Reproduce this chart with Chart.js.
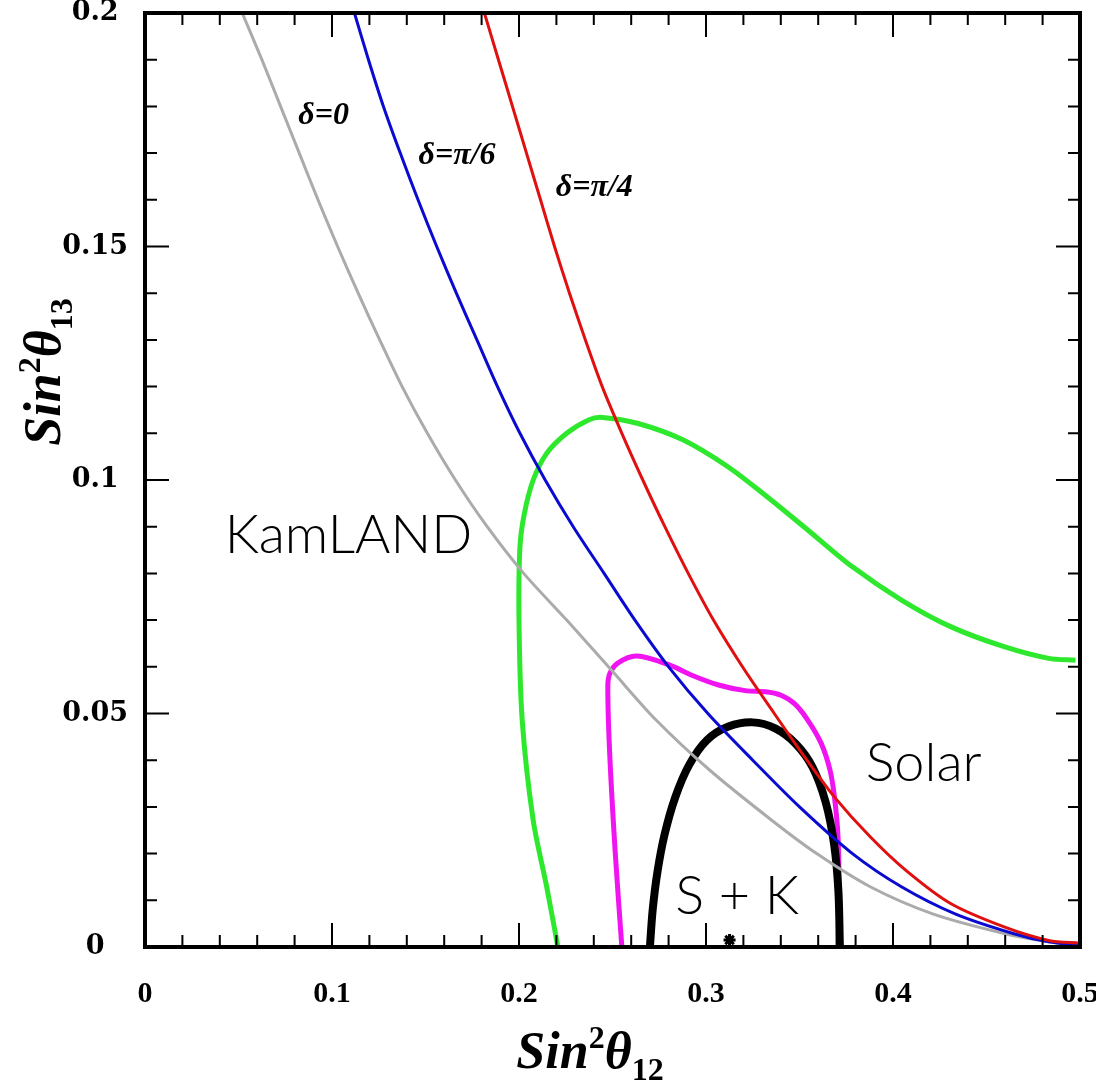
<!DOCTYPE html>
<html>
<head>
<meta charset="utf-8">
<script src="https://cdn.jsdelivr.net/npm/chart.js@4.4.1/dist/chart.umd.min.js"></script>
<style>
html, body { margin: 0; padding: 0; background: #fff; }
#wrap { width: 1096px; height: 1087px; }
</style>
</head>
<body>
<div id="wrap"><canvas id="mixingChart" width="1096" height="1087"></canvas></div>
<script>
// sin^2(theta12) vs sin^2(theta13)

// delta = 0 (gray)
const delta0X = [0.052, 0.0625, 0.0725, 0.0825, 0.0925, 0.1030, 0.114, 0.1255, 0.1375, 0.151, 0.166, 0.183, 0.2025, 0.2255, 0.2494, 0.2733, 0.3019, 0.3353, 0.3592, 0.3878, 0.4212, 0.4594, 0.4833, 0.500];
const delta0Y = [0.200, 0.190, 0.180, 0.170, 0.160, 0.150, 0.140, 0.130, 0.120, 0.110, 0.100, 0.090, 0.080, 0.070, 0.0593, 0.0486, 0.0379, 0.0271, 0.020, 0.0129, 0.0071, 0.0029, 0.0011, 0.0003];

// delta = pi/6 (blue)
const deltaPi6X = [0.112, 0.1195, 0.1275, 0.1365, 0.146, 0.156, 0.1665, 0.1775, 0.1885, 0.2005, 0.214, 0.229, 0.2455, 0.262, 0.280, 0.301, 0.325, 0.350, 0.3783, 0.4045, 0.4332, 0.4642, 0.4833, 0.500];
const deltaPi6Y = [0.200, 0.190, 0.180, 0.170, 0.160, 0.150, 0.140, 0.130, 0.120, 0.110, 0.100, 0.090, 0.080, 0.070, 0.060, 0.050, 0.040, 0.030, 0.020, 0.0129, 0.0071, 0.0029, 0.0011, 0.0003];

// delta = pi/4 (red)
const deltaPi4X = [0.1815, 0.189, 0.1965, 0.204, 0.2115, 0.219, 0.227, 0.2355, 0.2445, 0.255, 0.2662, 0.278, 0.2905, 0.304, 0.3195, 0.3365, 0.354, 0.3687, 0.3878, 0.4069, 0.4308, 0.4594, 0.4833, 0.500];
const deltaPi4Y = [0.200, 0.190, 0.180, 0.170, 0.160, 0.150, 0.140, 0.130, 0.120, 0.110, 0.100, 0.090, 0.080, 0.070, 0.060, 0.050, 0.040, 0.0321, 0.0236, 0.0164, 0.0093, 0.0043, 0.0014, 0.0008];

// KamLAND contour (green)
const kamlandX = [0.2208, 0.2148, 0.2076, 0.2017, 0.2000, 0.2005, 0.2029, 0.2076, 0.2148, 0.2255, 0.2375, 0.2446, 0.2637, 0.2876, 0.3115, 0.3305, 0.3544, 0.3783, 0.4045, 0.4308, 0.4594, 0.4833, 0.4976];
const kamlandY = [0.000, 0.0129, 0.0271, 0.0486, 0.070, 0.0857, 0.0929, 0.100, 0.1057, 0.110, 0.1129, 0.1134, 0.1121, 0.1086, 0.1029, 0.0971, 0.0893, 0.0814, 0.0743, 0.0686, 0.0643, 0.0618, 0.0614];

// Solar contour (magenta)
const solarX = [0.255, 0.2515, 0.2485, 0.2475, 0.2485, 0.2528, 0.2630, 0.2804, 0.2924, 0.3067, 0.321, 0.3329, 0.3401, 0.3473, 0.3544, 0.3616, 0.3663, 0.3687, 0.3706, 0.3711, 0.3706];
const solarY = [0.000, 0.020, 0.0414, 0.0557, 0.0585, 0.0608, 0.0623, 0.0604, 0.0582, 0.0561, 0.0549, 0.0546, 0.0539, 0.0521, 0.0486, 0.0436, 0.0379, 0.0321, 0.0236, 0.0129, 0.000];

// Solar + KamLAND contour (black)
const combinedX = [0.270, 0.2715, 0.274, 0.2778, 0.2835, 0.291, 0.3005, 0.312, 0.325, 0.337, 0.348, 0.357, 0.364, 0.3685, 0.3708, 0.3716];
const combinedY = [0.000, 0.008, 0.016, 0.024, 0.032, 0.039, 0.0443, 0.0472, 0.0481, 0.0468, 0.0435, 0.0385, 0.031, 0.022, 0.012, 0.000];

// best fit point
const bestFitX = [0.3126];
const bestFitY = [0.0015];

const xTickValues = [0, 0.1, 0.2, 0.3, 0.4, 0.5];
const yTickValues = [0, 0.05, 0.1, 0.15, 0.2];

const textLabels = [
    { text: 'δ=0', x: 0.082, y: 0.178, font: 'italic bold 32px "Liberation Serif"' },
    { text: 'δ=π/6', x: 0.1463, y: 0.1695, font: 'italic bold 32px "Liberation Serif"' },
    { text: 'δ=π/4', x: 0.2197, y: 0.1625, font: 'italic bold 32px "Liberation Serif"' },
    { text: 'KamLAND', x: 0.0426, y: 0.088, font: '300 54px Lato, "Open Sans", sans-serif' },
    { text: 'Solar', x: 0.3854, y: 0.0393, font: '300 54px Lato, "Open Sans", sans-serif' },
    { text: 'S + K', x: 0.2835, y: 0.0107, font: '300 54px Lato, "Open Sans", sans-serif' },
];

function toPoints(xs, ys) {
    return xs.map((x, i) => ({ x: x, y: ys[i] }));
}

function curve(xs, ys, color, width, order) {
    return {
        data: toPoints(xs, ys),
        showLine: true,
        borderColor: color,
        borderWidth: width,
        pointRadius: 0,
        tension: 0.3,
        fill: false,
        order: order,
    };
}

// draws "Sin²θ" with a subscript, centred on (cx, baseline)
function drawAxisTitle(ctx, cx, baseline, sub) {
    const big = 'italic bold 52px "Liberation Serif"';
    const small = 'bold 32px "Liberation Serif"';
    ctx.font = big;
    const wSin = ctx.measureText('Sin').width;
    const wTheta = ctx.measureText('θ').width;
    ctx.font = small;
    const wSup = ctx.measureText('2').width;
    const wSub = ctx.measureText(sub).width;
    let x = cx - (wSin + wSup + wTheta + wSub) / 2;
    ctx.textBaseline = 'alphabetic';
    ctx.textAlign = 'left';
    ctx.font = big;
    ctx.fillText('Sin', x, baseline);
    x += wSin;
    ctx.font = small;
    ctx.fillText('2', x, baseline - 20);
    x += wSup;
    ctx.font = big;
    ctx.fillText('θ', x, baseline);
    x += wTheta;
    ctx.font = small;
    ctx.fillText(sub, x, baseline + 12);
}

const framePlugin = {
    id: 'framePlugin',
    afterDatasetsDraw(chart) {
        const { ctx, chartArea: a, scales: { x, y } } = chart;
        ctx.save();
        ctx.strokeStyle = '#000';
        ctx.lineWidth = 2;
        ctx.beginPath();
        for (let i = 0; i <= 25; i++) {
            const px = x.getPixelForValue(i * 0.02);
            const len = i % 5 === 0 ? 24 : 12;
            ctx.moveTo(px, a.bottom); ctx.lineTo(px, a.bottom - len);
            ctx.moveTo(px, a.top); ctx.lineTo(px, a.top + len);
        }
        for (let i = 0; i <= 20; i++) {
            const py = y.getPixelForValue(i * 0.01);
            const len = i % 5 === 0 ? 24 : 12;
            ctx.moveTo(a.left, py); ctx.lineTo(a.left + len, py);
            ctx.moveTo(a.right, py); ctx.lineTo(a.right - len, py);
        }
        ctx.stroke();
        ctx.lineWidth = 4;
        ctx.strokeRect(a.left, a.top, a.width, a.height);

        // in-plot labels
        ctx.fillStyle = '#000';
        ctx.textAlign = 'left';
        ctx.textBaseline = 'middle';
        textLabels.forEach(l => {
            ctx.font = l.font;
            ctx.fillText(l.text, x.getPixelForValue(l.x), y.getPixelForValue(l.y));
        });

        // axis titles
        drawAxisTitle(ctx, 590, 1068, '12');
        ctx.save();
        ctx.translate(60, 372);
        ctx.rotate(-Math.PI / 2);
        drawAxisTitle(ctx, 0, 0, '13');
        ctx.restore();
        ctx.restore();
    }
};

const ctx = document.getElementById('mixingChart').getContext('2d');
new Chart(ctx, {
    type: 'scatter',
    data: {
        datasets: [
            curve(kamlandX, kamlandY, '#2ee82e', 5, 6),
            curve(solarX, solarY, '#f014f0', 5, 5),
            curve(combinedX, combinedY, '#000000', 8, 4),
            curve(delta0X, delta0Y, '#ababab', 3, 3),
            curve(deltaPi6X, deltaPi6Y, '#0a0ad0', 3, 2),
            curve(deltaPi4X, deltaPi4Y, '#e01010', 3, 1),
            {
                data: toPoints(bestFitX, bestFitY),
                pointStyle: 'star',
                pointRadius: 6,
                borderColor: '#000',
                borderWidth: 3,
                order: 0,
            },
        ],
    },
    options: {
        responsive: false,
        animation: false,
        devicePixelRatio: 1,
        layout: { padding: { left: 0, right: 16, top: 13, bottom: 0 } },
        plugins: {
            legend: { display: false },
            tooltip: { enabled: false },
        },
        scales: {
            x: {
                type: 'linear',
                min: 0,
                max: 0.5,
                border: { display: false },
                grid: { display: false, drawTicks: false },
                afterBuildTicks: s => { s.ticks = xTickValues.map(v => ({ value: v })); },
                afterFit: s => { s.height = 140; s.paddingLeft = 0; s.paddingRight = 0; },
                ticks: {
                    autoSkip: false,
                    maxRotation: 0,
                    padding: 29,
                    color: '#000',
                    font: { family: '"Liberation Serif"', size: 30, weight: 'bold' },
                    callback: v => String(Math.round(v * 100) / 100),
                },
            },
            y: {
                type: 'linear',
                min: 0,
                max: 0.2,
                border: { display: false },
                grid: { display: false, drawTicks: false },
                afterBuildTicks: s => { s.ticks = yTickValues.map(v => ({ value: v })); },
                afterFit: s => { s.width = 145; s.paddingTop = 0; s.paddingBottom = 0; },
                ticks: {
                    autoSkip: false,
                    crossAlign: 'center',
                    padding: 17,
                    color: '#000',
                    font: { family: '"DejaVu Serif"', size: 27, weight: 'bold', lineHeight: 1 },
                    callback: v => String(Math.round(v * 100) / 100),
                },
            },
        },
    },
    plugins: [framePlugin],
});
</script>
</body>
</html>
